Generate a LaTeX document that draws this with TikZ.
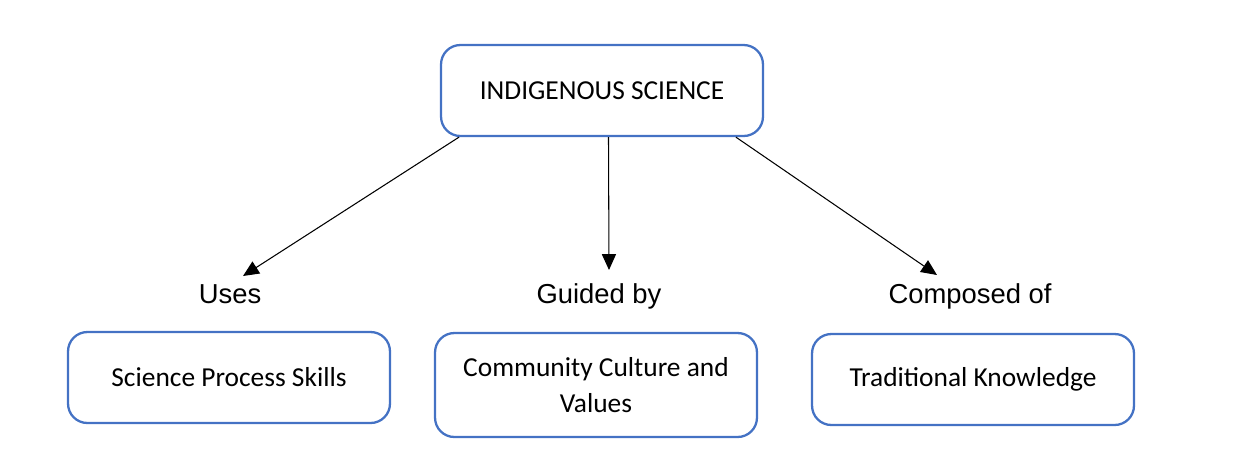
\documentclass[tikz,border=0pt]{standalone}
\usepackage{fontspec}
\setmainfont{Carlito}
\newfontfamily\labelfont{Liberation Sans}
\usepackage{tikz}
\usetikzlibrary{arrows.meta}
\usetikzlibrary{calc}
\definecolor{boxblue}{HTML}{4472C4}

\begin{document}
\begin{tikzpicture}[x=0.02cm, y=-0.02cm,
  conceptbox/.style={rectangle, rounded corners=11pt, draw=boxblue, line width=1.3pt, minimum width=6.44cm, minimum height=1.82cm, text centered, font=\fontsize{15.6}{20.5}\selectfont},
  linklabel/.style={anchor=base, font=\labelfont\fontsize{15.6}{18}\selectfont},
  linkarrow/.style={-{Triangle[length=9pt, width=8pt]}, line width=0.6pt}]
\useasboundingbox (0,0) rectangle (1246,468);
\draw (602,90.5) node[conceptbox, name = top]{INDIGENOUS SCIENCE};
\draw (229,377.5) node[conceptbox, name = skills]{Science Process Skills};
\draw (596,385) node[conceptbox, name = culture, minimum height=2.08cm, align=center]{Community Culture and\\Values};
\draw (973,379.5) node[conceptbox, name = knowledge]{Traditional Knowledge};
\draw (230,303) node[linklabel, name = uses]{Uses};
\draw (599,303) node[linklabel, name = guided]{Guided by};
\draw (970,303) node[linklabel, name = composed]{Composed of};
\coordinate (usesend) at (243,276);
\coordinate (guidedend) at (609,270);
\coordinate (composedend) at (937,275);
\draw[linkarrow] ($(top.south west)!0.059!(top.south east)$) -- (usesend);
\draw[linkarrow] ($(top.south west)!0.52!(top.south east)$) -- (guidedend);
\draw[linkarrow] ($(top.south west)!0.913!(top.south east)$) -- (composedend);
\end{tikzpicture}
\end{document}
